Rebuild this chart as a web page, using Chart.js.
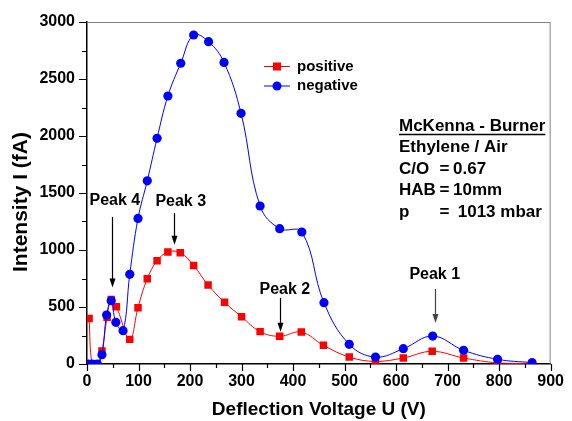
<!DOCTYPE html>
<html>
<head>
<meta charset="utf-8">
<script src="https://cdn.jsdelivr.net/npm/chart.js@4.4.0/dist/chart.umd.min.js"></script>
<style>
body{margin:0;background:#fff}
</style>
</head>
<body>
<canvas id="lienzo" width="572" height="421"></canvas>
<script>
const voltPos = [4, 10, 20, 29, 39, 47, 57, 83, 99, 117, 136, 157, 181, 207, 235, 267, 300, 336, 374, 416, 459, 509, 560, 614, 670, 731, 797, 864]
const positive = [400, 0, 0, 115, 410, 565, 503, 216, 494, 748, 905, 982, 976, 864, 693, 541, 415, 284, 243, 280, 164, 61, 23, 53, 111, 53, 10, 5]
const voltNeg = [3, 10, 20, 29, 38, 47, 56, 70, 83, 99, 117, 136, 157, 182, 207, 236, 266, 299, 336, 374, 417, 460, 509, 560, 614, 671, 731, 797, 864]
const negative = [0, 0, 0, 82, 430, 555, 366, 292, 787, 1277, 1607, 1980, 2351, 2638, 2886, 2827, 2645, 2199, 1386, 1187, 1158, 538, 173, 61, 134, 245, 120, 41, 12]

const xTicks = [0, 100, 200, 300, 400, 500, 600, 700, 800, 900]
const yTicks = [0, 500, 1000, 1500, 2000, 2500, 3000]

const peaks = [
    {text: "Peak 4", x: 48, from: 1290, to: 670, tx: 54, ty: 1430},
    {text: "Peak 3", x: 168, from: 1325, to: 1045, tx: 182, ty: 1424},
    {text: "Peak 2", x: 374, from: 580, to: 282, tx: 384, ty: 655},
    {text: "Peak 1", x: 676, from: 658, to: 360, tx: 675, ty: 780}
]
const infoRows = [
    ["McKenna - Burner"],
    ["Ethylene / Air"],
    ["C/O", "=", "0.67"],
    ["HAB", "=", "10mm"],
    ["p", "=", " 1013 mbar"]
]

const fuente = "'Liberation Sans', Arial, sans-serif"
Chart.defaults.font.family = fuente
Chart.defaults.color = "#000"

const toPoints = (xs, ys) => xs.map((v, i) => ({x: v, y: ys[i]}))

const extras = {
    id: "extras",
    afterDraw(chart) {
        const ctx = chart.ctx
        const a = chart.chartArea
        const sx = chart.scales.x
        const sy = chart.scales.y
        ctx.save()

        // frame top / right
        ctx.strokeStyle = "#808080"
        ctx.lineWidth = 1
        ctx.beginPath()
        ctx.moveTo(a.left, a.top + 0.5)
        ctx.lineTo(a.right - 0.5, a.top + 0.5)
        ctx.lineTo(a.right - 0.5, a.bottom)
        ctx.stroke()

        // tick marks, major and minor
        ctx.strokeStyle = "#000"
        ctx.lineWidth = 1.2
        ctx.beginPath()
        for (let t of sx.ticks) {
            let px = Math.round(sx.getPixelForValue(t.value)) + 0.5
            let len = t.value % 100 === 0 ? 7 : 4
            ctx.moveTo(px, a.bottom)
            ctx.lineTo(px, a.bottom + len)
        }
        for (let t of sy.ticks) {
            let py = Math.round(sy.getPixelForValue(t.value)) + 0.5
            let len = t.value % 500 === 0 ? 8 : 5
            ctx.moveTo(a.left, py)
            ctx.lineTo(a.left - len, py)
        }
        ctx.stroke()

        // y axis title
        ctx.save()
        ctx.translate(21, 202)
        ctx.rotate(-Math.PI / 2)
        ctx.font = "bold 21px " + fuente
        ctx.textAlign = "center"
        ctx.textBaseline = "middle"
        ctx.fillStyle = "#000"
        ctx.fillText("Intensity I (fA)", 0, 0)
        ctx.restore()

        // peak labels with arrows
        ctx.font = "bold 16px " + fuente
        ctx.textAlign = "center"
        ctx.textBaseline = "middle"
        for (let p of peaks) {
            ctx.fillStyle = "#000"
            ctx.fillText(p.text, sx.getPixelForValue(p.tx), sy.getPixelForValue(p.ty))
            let px = Math.round(sx.getPixelForValue(p.x)) + 0.5
            let y0 = sy.getPixelForValue(p.from)
            let y1 = sy.getPixelForValue(p.to)
            ctx.strokeStyle = p.text === "Peak 1" ? "#444" : "#000"
            ctx.fillStyle = ctx.strokeStyle
            ctx.lineWidth = 1.2
            ctx.beginPath()
            ctx.moveTo(px, y0)
            ctx.lineTo(px, y1 - 8)
            ctx.stroke()
            ctx.beginPath()
            ctx.moveTo(px - 3, y1 - 9)
            ctx.lineTo(px + 3, y1 - 9)
            ctx.lineTo(px, y1)
            ctx.closePath()
            ctx.fill()
        }

        // legend: line with marker in the middle
        ctx.font = "bold 15px " + fuente
        ctx.textAlign = "left"
        chart.data.datasets.forEach((ds, i) => {
            let ly = 66.5 + i * 19.5
            ctx.strokeStyle = ds.borderColor
            ctx.lineWidth = 1
            ctx.beginPath()
            ctx.moveTo(264, ly)
            ctx.lineTo(290, ly)
            ctx.stroke()
            ctx.fillStyle = ds.pointBackgroundColor
            if (ds.pointStyle === "rect") {
                ctx.fillRect(273, ly - 4, 8, 8)
            } else {
                ctx.beginPath()
                ctx.arc(277, ly, 4.5, 0, Math.PI * 2)
                ctx.fill()
            }
            ctx.fillStyle = "#000"
            ctx.fillText(ds.label, 297, ly)
        })

        // info box
        ctx.font = "bold 17px " + fuente
        let cols = [399, 439.5, 453]
        infoRows.forEach((row, i) => {
            let ry = 126 + i * 21.6
            row.forEach((txt, j) => ctx.fillText(txt, cols[j], ry))
            if (i === 0) {
                let w = ctx.measureText(row[0]).width
                ctx.strokeStyle = "#000"
                ctx.lineWidth = 1.5
                ctx.beginPath()
                ctx.moveTo(399, 134.5)
                ctx.lineTo(399 + w, 134.5)
                ctx.stroke()
            }
        })
        ctx.restore()
    }
}

new Chart(document.getElementById("lienzo"), {
    type: "scatter",
    data: {
        datasets: [{
            label: "positive",
            data: toPoints(voltPos, positive),
            showLine: true,
            borderColor: "#ff0000",
            borderWidth: 1,
            backgroundColor: "#ff0000",
            pointBackgroundColor: "#ff0000",
            pointStyle: "rect",
            pointRadius: 5.3,
            pointBorderWidth: 0,
            tension: 0.4,
            order: 2
        }, {
            label: "negative",
            data: toPoints(voltNeg, negative),
            showLine: true,
            borderColor: "#0000ff",
            borderWidth: 1,
            backgroundColor: "#0000ff",
            pointBackgroundColor: "#0000ff",
            pointStyle: "circle",
            pointRadius: 4.6,
            pointBorderWidth: 0,
            tension: 0.4,
            order: 1
        }]
    },
    options: {
        responsive: false,
        animation: false,
        devicePixelRatio: 1,
        layout: {padding: {top: 22, right: 15, left: 0, bottom: 0}},
        plugins: {
            legend: {display: false},
            tooltip: {enabled: false}
        },
        scales: {
            x: {
                type: "linear",
                min: 0,
                max: 900,
                afterFit: s => { s.height = 57 },
                afterBuildTicks: s => {
                    s.ticks = []
                    for (let v = 0; v <= 900; v += 50) s.ticks.push({value: v})
                },
                grid: {display: false, drawTicks: false},
                border: {color: "#000", width: 1.5},
                ticks: {
                    autoSkip: false,
                    maxRotation: 0,
                    padding: 8,
                    font: {size: 16, weight: "bold"},
                    callback: v => xTicks.includes(v) ? v : ""
                },
                title: {
                    display: true,
                    text: "Deflection Voltage U (V)",
                    font: {size: 19, weight: "bold"},
                    padding: {top: 0, bottom: 0}
                }
            },
            y: {
                type: "linear",
                min: 0,
                max: 3000,
                afterFit: s => { s.width = 87 },
                afterBuildTicks: s => {
                    s.ticks = []
                    for (let v = 0; v <= 3000; v += 250) s.ticks.push({value: v})
                },
                grid: {display: false, drawTicks: false},
                border: {color: "#000", width: 1.5},
                ticks: {
                    autoSkip: false,
                    padding: 12,
                    font: {size: 16, weight: "bold"},
                    callback: v => yTicks.includes(v) ? v : ""
                },
                title: {display: false}
            }
        }
    },
    plugins: [extras]
})
</script>
</body>
</html>
